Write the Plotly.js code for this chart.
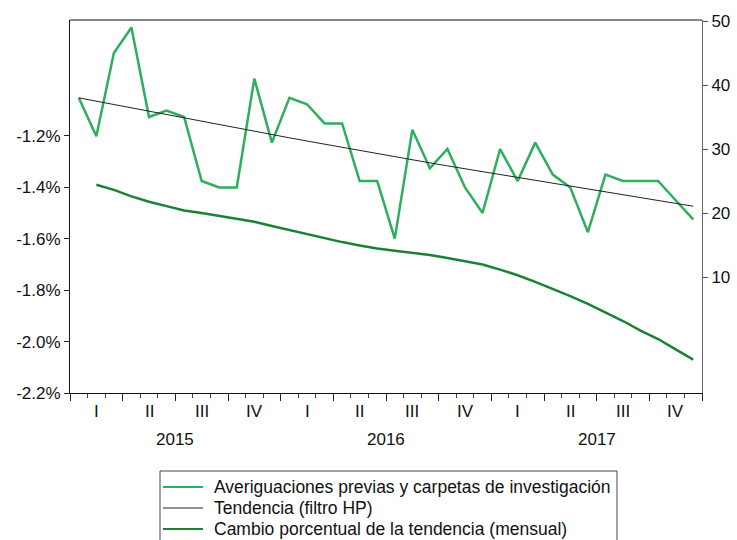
<!DOCTYPE html>
<html>
<head>
<meta charset="utf-8">
<script src="https://cdn.plot.ly/plotly-3.0.1.min.js"></script>
<style>html,body{margin:0;padding:0;background:#fff;}#chart{width:737px;height:540px;}</style>
</head>
<body>
<div id="chart"></div>
<script>
// Monthly index: 0 = Jan 2015 ... 35 = Dec 2017
var months = [0,1,2,3,4,5,6,7,8,9,10,11,12,13,14,15,16,17,18,19,20,21,22,23,24,25,26,27,28,29,30,31,32,33,34,35];
var averiguaciones = [38,32,45,49,35,36,35,25,24,24,41,31,38,37,34,34,25,25,16,33,27,30,24,20,30,25,31,26,24,17,26,25,25,25,22,19];
var tendencia = [38.0,37.47,36.94,36.41,35.88,35.35,34.82,34.30,33.78,33.27,32.76,32.25,31.75,31.25,30.75,30.25,29.76,29.27,28.79,28.31,27.84,27.37,26.91,26.45,26.00,25.55,25.10,24.65,24.20,23.75,23.30,22.85,22.40,21.96,21.51,21.07];
var cambioMonths = [1,2,3,4,5,6,7,8,9,10,11,12,13,14,15,16,17,18,19,20,21,22,23,24,25,26,27,28,29,30,31,32,33,34,35];
var cambio = [-1.39,-1.41,-1.435,-1.456,-1.473,-1.49,-1.50,-1.512,-1.522,-1.534,-1.55,-1.566,-1.582,-1.598,-1.613,-1.626,-1.638,-1.647,-1.654,-1.663,-1.675,-1.687,-1.700,-1.72,-1.742,-1.768,-1.795,-1.823,-1.853,-1.885,-1.92,-1.957,-1.99,-2.03,-2.07];
var quarterLabels = ["I","II","III","IV","I","II","III","IV","I","II","III","IV"];
var quarterPos = [1,4,7,10,13,16,19,22,25,28,31,34];
var yearLabels = ["2015","2016","2017"];
var yearPos = [5.5,17.5,29.5];
var leftTicks = [-2.2,-2.0,-1.8,-1.6,-1.4,-1.2];
var leftTickText = ["-2.2%","-2.0%","-1.8%","-1.6%","-1.4%","-1.2%"];
var rightTicks = [10,20,30,40,50];
var quarterBounds = [-0.5,2.5,5.5,8.5,11.5,14.5,17.5,20.5,23.5,26.5,29.5,32.5,35.5];
var seriesNames = ["Averiguaciones previas y carpetas de investigación", "Tendencia (filtro HP)", "Cambio porcentual de la tendencia (mensual)"];
var seriesColors = ["#2fae5e", "#222222", "#1a8236"];
var seriesWidths = [2.5, 1, 2.5];

var FONT = 'Liberation Sans, Arial, sans-serif';

var traces = [
  {x: months, y: averiguaciones, yaxis: 'y2', type: 'scatter', mode: 'lines',
   name: seriesNames[0], line: {color: seriesColors[0], width: seriesWidths[0]}},
  {x: months, y: tendencia, yaxis: 'y2', type: 'scatter', mode: 'lines',
   name: seriesNames[1], line: {color: seriesColors[1], width: seriesWidths[1]}},
  {x: cambioMonths, y: cambio, yaxis: 'y', type: 'scatter', mode: 'lines',
   name: seriesNames[2], line: {color: seriesColors[2], width: seriesWidths[2]}}
];

var plotLeft = 70, plotRight = 702, plotTop = 20, plotBottom = 393;
function paperY(py) { return (plotBottom - py) / (plotBottom - plotTop); }
function paperX(px) { return (px - plotLeft) / (plotRight - plotLeft); }

var annotations = [];
for (var i = 0; i < quarterLabels.length; i++) {
  annotations.push({x: quarterPos[i], y: paperY(411), xref: 'x', yref: 'paper', yanchor: 'middle',
    text: quarterLabels[i], showarrow: false, font: {family: FONT, size: 17, color: '#111'}});
}
for (var j = 0; j < yearLabels.length; j++) {
  annotations.push({x: yearPos[j], y: paperY(439), xref: 'x', yref: 'paper', yanchor: 'middle',
    text: yearLabels[j], showarrow: false, font: {family: FONT, size: 17, color: '#111'}});
}

var shapes = [
  {type: 'line', xref: 'paper', yref: 'paper', x0: 0, x1: 1, y0: 1, y1: 1, line: {color: '#111', width: 1.2}},
  // legend box (runs off the bottom edge as in the reference)
  {type: 'rect', xref: 'paper', yref: 'paper', x0: paperX(160), x1: paperX(617), y0: paperY(471), y1: paperY(560),
   line: {color: '#444', width: 1}, fillcolor: 'rgba(0,0,0,0)'}
];
var legendRows = [487, 508, 529];
for (var k = 0; k < seriesNames.length; k++) {
  shapes.push({type: 'line', xref: 'paper', yref: 'paper', x0: paperX(163), x1: paperX(203),
    y0: paperY(legendRows[k]), y1: paperY(legendRows[k]),
    line: {color: seriesColors[k], width: k === 1 ? 1 : 1.8}});
  annotations.push({x: paperX(212), y: paperY(legendRows[k]), xref: 'paper', yref: 'paper',
    xanchor: 'left', yanchor: 'middle', text: seriesNames[k], showarrow: false,
    font: {family: FONT, size: 17.5, color: '#111'}});
}

var layout = {
  width: 737, height: 540,
  margin: {l: 70, r: 35, t: 20, b: 147, autoexpand: false},
  paper_bgcolor: '#ffffff', plot_bgcolor: '#ffffff',
  font: {family: FONT, size: 16, color: '#111'},
  showlegend: false,
  xaxis: {range: [-0.5, 35.5], tickmode: 'array', tickvals: quarterBounds,
    ticktext: quarterBounds.map(function(){return '';}),
    ticks: 'outside', ticklen: 7, tickcolor: '#222', tickwidth: 1,
    minor: {tickmode: 'linear', tick0: -0.5, dtick: 1, ticks: 'outside', ticklen: 4, tickcolor: '#444', showgrid: false},
    showline: true, linecolor: '#111', linewidth: 1, showgrid: false, zeroline: false},
  yaxis: {range: [-2.2, -0.749], tickmode: 'array', tickvals: leftTicks, ticktext: leftTickText,
    ticks: 'outside', ticklen: 5, tickcolor: '#222', showline: true, linecolor: '#111', linewidth: 1,
    showgrid: false, zeroline: false, tickfont: {size: 17}},
  yaxis2: {range: [-8.12, 50.16], overlaying: 'y', side: 'right', tickmode: 'array', tickvals: rightTicks,
    ticks: 'outside', ticklen: 5, tickcolor: '#555', showline: true, linecolor: '#666', linewidth: 1,
    showgrid: false, zeroline: false, tickfont: {size: 17}},
  shapes: shapes,
  annotations: annotations
};

Plotly.newPlot('chart', traces, layout, {displayModeBar: false, staticPlot: true});
</script>
</body>
</html>
